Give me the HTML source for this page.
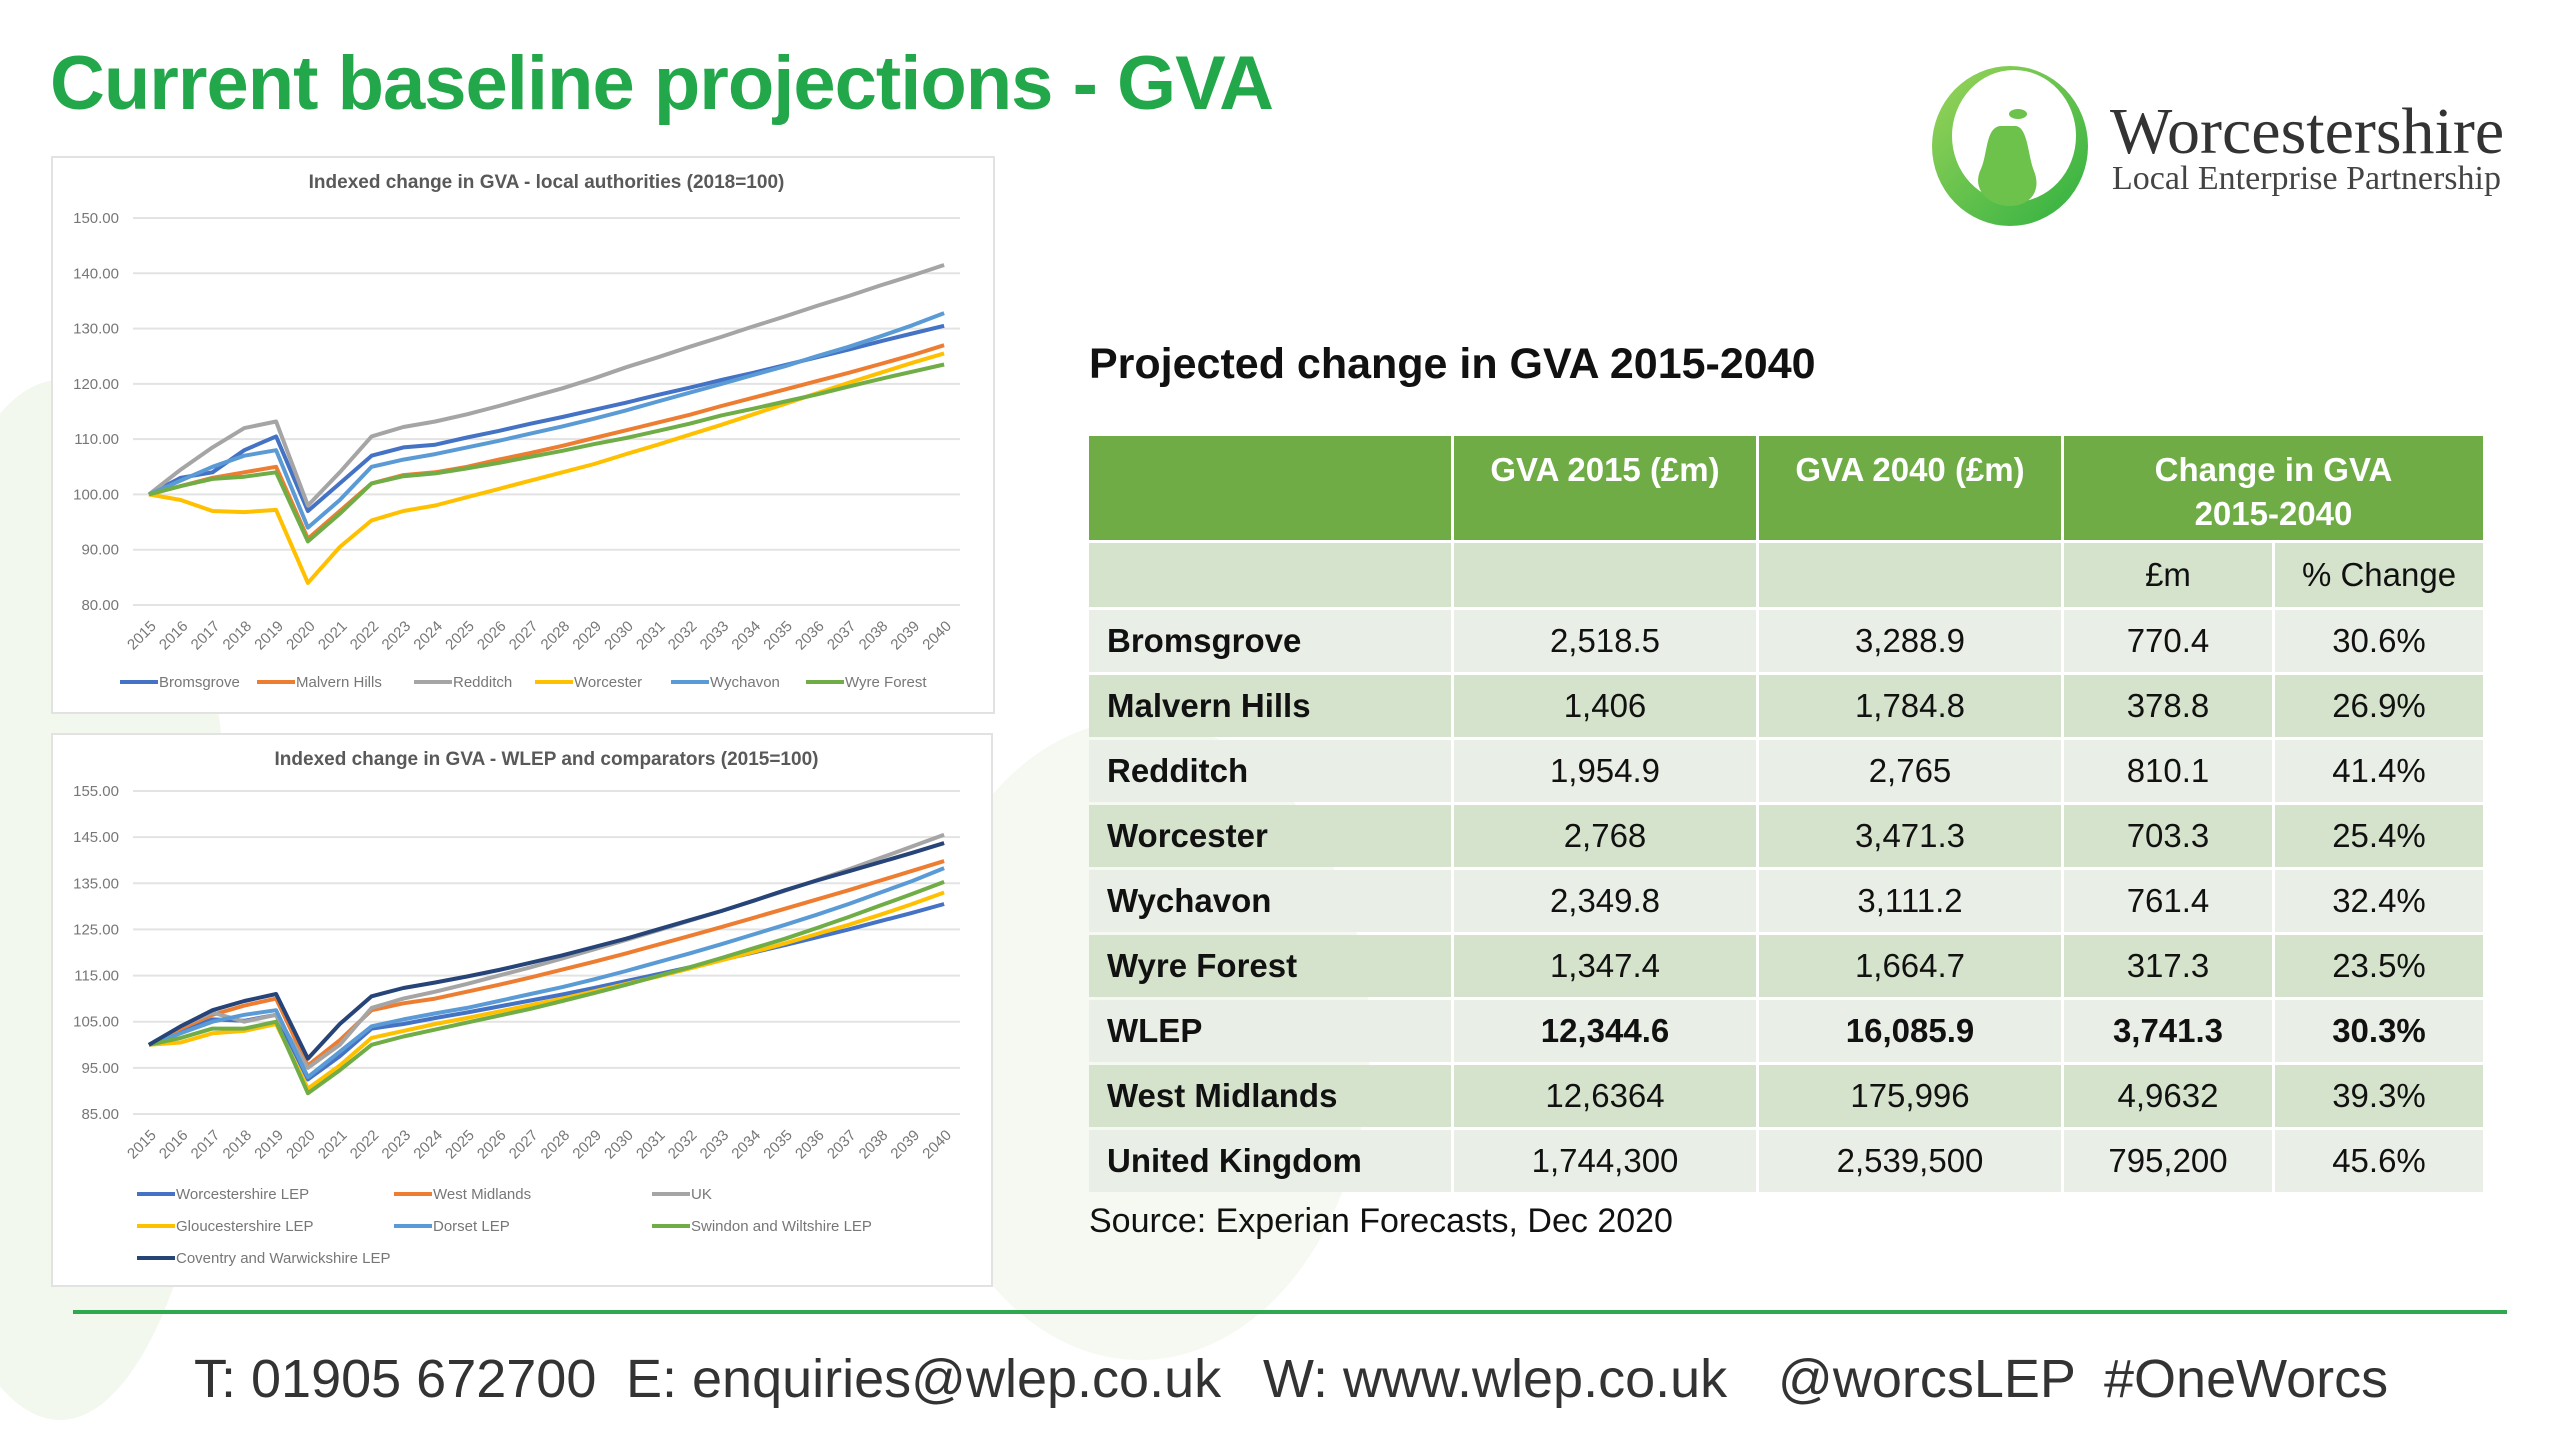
<!DOCTYPE html>
<html><head><meta charset="utf-8">
<style>
html,body{margin:0;padding:0;}
body{width:2560px;height:1440px;position:relative;overflow:hidden;background:#fff;font-family:"Liberation Sans",sans-serif;}
.abs{position:absolute;}
#title{left:50px;top:40px;font-size:76px;font-weight:bold;color:#22a84a;white-space:nowrap;letter-spacing:-1px;}
.chartbox{position:absolute;background:#fff;border:2px solid #e2e2e2;}
table{border-collapse:separate;border-spacing:3px;position:absolute;left:1086px;top:433px;font-size:33px;color:#111;}
td{padding:0;text-align:center;}
th{background:#6fac46;color:#fff;font-weight:bold;font-size:33px;height:104px;vertical-align:top;padding-top:12px;line-height:44px;box-sizing:border-box;}
tr.sub td{background:#d6e3cc;height:64px;}
tr.r td{height:62px;}
tr.r:nth-child(odd) td{background:#e9eee6;}
tr.r:nth-child(even) td{background:#d6e3cc;}
td.nm{text-align:left;padding-left:18px;font-weight:bold;}
tr.b td{font-weight:bold;}
.foot{position:absolute;top:1348px;font-size:54px;color:#333;white-space:nowrap;}
</style></head>
<body>
<svg class="abs" style="left:0;top:0" width="2560" height="1440">
<ellipse cx="60" cy="900" rx="170" ry="520" fill="#f3f8ef"/>
<ellipse cx="1140" cy="1040" rx="230" ry="320" fill="#f5f9f2"/>
</svg>
<div id="title" class="abs">Current baseline projections - GVA</div>

<div class="abs" style="left:1930px;top:66px">
<svg width="170" height="165">
<defs><linearGradient id="lg" x1="0" y1="0" x2="1" y2="1"><stop offset="0" stop-color="#9bd45a"/><stop offset="1" stop-color="#2fb040"/></linearGradient></defs>
<ellipse cx="80" cy="80" rx="78" ry="80" fill="url(#lg)"/>
<ellipse cx="84" cy="70" rx="62" ry="66" fill="#fff"/>
<path d="M70 60 C55 62 58 90 50 105 C42 125 60 140 80 140 C100 140 112 125 104 105 C98 90 98 62 86 60 Z" fill="#6cc24a"/>
<ellipse cx="88" cy="48" rx="9" ry="5" fill="#6cc24a"/>
</svg>
</div>
<div class="abs" style="left:2110px;top:94px;font-family:'Liberation Serif',serif;font-size:66px;color:#333;">Worcestershire</div>
<div class="abs" style="left:2112px;top:160px;font-family:'Liberation Serif',serif;font-size:34px;color:#444;">Local Enterprise Partnership</div>

<div class="chartbox" style="left:51px;top:156px;width:940px;height:554px"></div>
<div class="chartbox" style="left:51px;top:733px;width:938px;height:550px"></div>
<svg id="svg1" class="abs" style="left:0;top:0" width="1000" height="1300"></svg>

<div class="abs" style="left:1089px;top:340px;font-size:43px;font-weight:bold;color:#111;">Projected change in GVA 2015-2040</div>
<table>
<tr><th style="width:362px"></th><th style="width:302px">GVA 2015 (£m)</th><th style="width:302px">GVA 2040 (£m)</th><th colspan="2">Change in GVA<br>2015-2040</th></tr>
<tr class="sub"><td></td><td></td><td></td><td style="width:208px">£m</td><td style="width:208px">% Change</td></tr>
<tr class="r"><td class="nm">Bromsgrove</td><td>2,518.5</td><td>3,288.9</td><td>770.4</td><td>30.6%</td></tr>
<tr class="r"><td class="nm">Malvern Hills</td><td>1,406</td><td>1,784.8</td><td>378.8</td><td>26.9%</td></tr>
<tr class="r"><td class="nm">Redditch</td><td>1,954.9</td><td>2,765</td><td>810.1</td><td>41.4%</td></tr>
<tr class="r"><td class="nm">Worcester</td><td>2,768</td><td>3,471.3</td><td>703.3</td><td>25.4%</td></tr>
<tr class="r"><td class="nm">Wychavon</td><td>2,349.8</td><td>3,111.2</td><td>761.4</td><td>32.4%</td></tr>
<tr class="r"><td class="nm">Wyre Forest</td><td>1,347.4</td><td>1,664.7</td><td>317.3</td><td>23.5%</td></tr>
<tr class="r b"><td class="nm">WLEP</td><td>12,344.6</td><td>16,085.9</td><td>3,741.3</td><td>30.3%</td></tr>
<tr class="r"><td class="nm">West Midlands</td><td>12,6364</td><td>175,996</td><td>4,9632</td><td>39.3%</td></tr>
<tr class="r"><td class="nm">United Kingdom</td><td>1,744,300</td><td>2,539,500</td><td>795,200</td><td>45.6%</td></tr>
</table>
<div class="abs" style="left:1089px;top:1202px;font-size:34px;color:#111;">Source: Experian Forecasts, Dec 2020</div>

<div class="abs" style="left:73px;top:1310px;width:2434px;height:4px;background:#2fa84f"></div>
<div class="foot" style="left:194px">T: 01905 672700</div>
<div class="foot" style="left:626px">E: enquiries@wlep.co.uk</div>
<div class="foot" style="left:1263px">W: www.wlep.co.uk</div>
<div class="foot" style="left:1778px">@worcsLEP</div>
<div class="foot" style="left:2104px">#OneWorcs</div>

<script>
const years = [2015,2016,2017,2018,2019,2020,2021,2022,2023,2024,2025,2026,2027,2028,2029,2030,2031,2032,2033,2034,2035,2036,2037,2038,2039,2040];
const ticks1 = [80,90,100,110,120,130,140,150];
const ticks2 = [85,95,105,115,125,135,145,155];
const names1 = ["Bromsgrove","Malvern Hills","Redditch","Worcester","Wychavon","Wyre Forest"];
const bromsgrove = [100,103,104,108,110.5,97,102,107,108.5,109,110.3,111.5,112.8,114,115.3,116.6,118,119.3,120.7,122,123.4,124.8,126.2,127.7,129.1,130.5];
const malvernHills = [100,101.5,103,104,105,92,97,102,103.5,104,105,106.3,107.5,108.8,110.2,111.6,113,114.4,116,117.5,119,120.5,122,123.6,125.2,127];
const redditch = [100,104.5,108.5,112,113.2,98,104,110.5,112.2,113.2,114.5,116,117.6,119.2,121,123,124.8,126.7,128.5,130.4,132.2,134.1,135.9,137.8,139.6,141.5];
const worcester = [100,99,97,96.8,97.2,84,90.5,95.3,97,98,99.5,101,102.5,104,105.5,107.3,109,110.8,112.6,114.5,116.4,118.3,120.2,122,123.8,125.5];
const wychavon = [100,102.5,105,107,108,94,99,105,106.3,107.3,108.5,109.7,111,112.3,113.7,115.2,116.8,118.4,120,121.6,123.2,125,126.7,128.6,130.6,132.8];
const wyreForest = [100,101.5,102.8,103.2,104,91.5,96.5,102,103.3,103.8,104.7,105.7,106.8,107.9,109.1,110.2,111.5,112.8,114.3,115.5,116.8,118.1,119.5,120.9,122.2,123.5];
const names2 = ["Worcestershire LEP","West Midlands","UK","Gloucestershire LEP","Dorset LEP","Swindon and Wiltshire LEP","Coventry and Warwickshire LEP"];
const worcsLEP = [100,103,105.5,105.2,106.5,92.5,97.5,103.5,104.5,105.8,107,108.3,109.6,110.9,112.3,113.8,115.3,116.8,118.4,120,121.6,123.3,125,126.8,128.6,130.5];
const westMidlands = [100,103.5,106.5,108.5,110,95.5,101,107.5,109,110,111.5,113,114.6,116.3,118,119.8,121.7,123.6,125.5,127.5,129.5,131.5,133.5,135.6,137.7,139.8];
const uk = [100,104,107,105,106.5,95,100,108,110,111.5,113.2,115,116.8,118.7,120.7,122.7,124.8,126.9,129,131.2,133.4,135.7,138,140.5,143,145.5];
const gloucsLEP = [100,100.5,102.5,103,104.5,90.5,95.5,101.5,103,104.5,105.8,107.2,108.6,110,111.6,113.2,114.8,116.5,118.3,120.1,122,124,126,128.2,130.5,133];
const dorsetLEP = [100,102.5,105,106.5,107.5,93,98.5,104,105.5,106.8,108,109.5,111,112.5,114.2,116,117.9,119.8,121.8,123.9,126,128.2,130.5,133,135.5,138.3];
const swindonLEP = [100,101.5,103.5,103.5,105,89.5,94.5,100,101.8,103.3,104.8,106.3,107.8,109.5,111.2,113,114.9,116.8,118.8,120.9,123,125.3,127.7,130.2,132.7,135.3];
const coventryLEP = [100,104,107.5,109.5,111,97,104.5,110.5,112.3,113.5,114.8,116.2,117.8,119.4,121.2,123,125,127,129,131.2,133.5,135.6,137.6,139.6,141.6,143.7];

const svg = document.getElementById('svg1');
const NS = 'http://www.w3.org/2000/svg';
function mk(tag, attrs){const e=document.createElementNS(NS,tag);for(const k in attrs)e.setAttribute(k,attrs[k]);svg.appendChild(e);return e;}

function drawChart(cfg){
  const L=cfg.left,R=cfg.right,band=(R-L)/years.length;
  const xs=i=>L+band*(i+0.5);
  const ys=v=>cfg.yBot-(v-cfg.vMin)/(cfg.vMax-cfg.vMin)*(cfg.yBot-cfg.yTop);
  const t=mk('text',{x:(L+R)/2,y:cfg.titleY,'text-anchor':'middle','font-size':19,'font-weight':'bold',fill:'#595959','font-family':'Liberation Sans, sans-serif'});
  t.textContent=cfg.title;
  
  
  cfg.ticks.forEach(v=>{
    const g=mk('line',{x1:L,x2:R,y1:ys(v),y2:ys(v),stroke:'#e3e3e3','stroke-width':2});
    
    
    const tx=mk('text',{x:L-14,y:ys(v)+5,'text-anchor':'end','font-size':15,fill:'#777','font-family':'Liberation Sans, sans-serif'});
    tx.textContent=v.toFixed(2);
    
    
  });
  years.forEach((y,i)=>{
    const tx=mk('text',{x:xs(i)+8,y:cfg.yBot+22,'text-anchor':'end','font-size':15,fill:'#777','font-family':'Liberation Sans, sans-serif',transform:'rotate(-45 '+(xs(i)+8)+' '+(cfg.yBot+22)+')'});
    tx.textContent=y;
    
    
  });
  cfg.series.forEach((s,k)=>{
    const d=s.map((v,i)=>(i?'L':'M')+xs(i).toFixed(1)+' '+ys(v).toFixed(1)).join(' ');
    const p=mk('path',{d:d,fill:'none',stroke:cfg.colors[k],'stroke-width':4,'stroke-linejoin':'round'});
    
    
    const lp=cfg.legendPos[k];
    const ll=mk('line',{x1:lp[0],x2:lp[0]+38,y1:lp[1],y2:lp[1],stroke:cfg.colors[k],'stroke-width':4});
    
    
    const lt=mk('text',{x:lp[0]+39,y:lp[1]+5,'font-size':15,fill:'#777','font-family':'Liberation Sans, sans-serif'});
    lt.textContent=cfg.names[k];
    
    
  });
}
drawChart({id:'chart1',title:'Indexed change in GVA - local authorities (2018=100)',titleY:188,left:133,right:960,yTop:218,yBot:605,vMin:80,vMax:150,ticks:ticks1,
  names:names1,series:[bromsgrove,malvernHills,redditch,worcester,wychavon,wyreForest],
  colors:['#4472c4','#ed7d31','#a5a5a5','#ffc000','#5b9bd5','#70ad47'],
  legendPos:[[120,682],[257,682],[414,682],[535,682],[671,682],[806,682]]});
drawChart({id:'chart2',title:'Indexed change in GVA - WLEP and comparators (2015=100)',titleY:765,left:133,right:960,yTop:791,yBot:1114,vMin:85,vMax:155,ticks:ticks2,
  names:names2,series:[worcsLEP,westMidlands,uk,gloucsLEP,dorsetLEP,swindonLEP,coventryLEP],
  colors:['#4472c4','#ed7d31','#a5a5a5','#ffc000','#5b9bd5','#70ad47','#264478'],
  legendPos:[[137,1194],[394,1194],[652,1194],[137,1226],[394,1226],[652,1226],[137,1258]]});
</script>
</body></html>
